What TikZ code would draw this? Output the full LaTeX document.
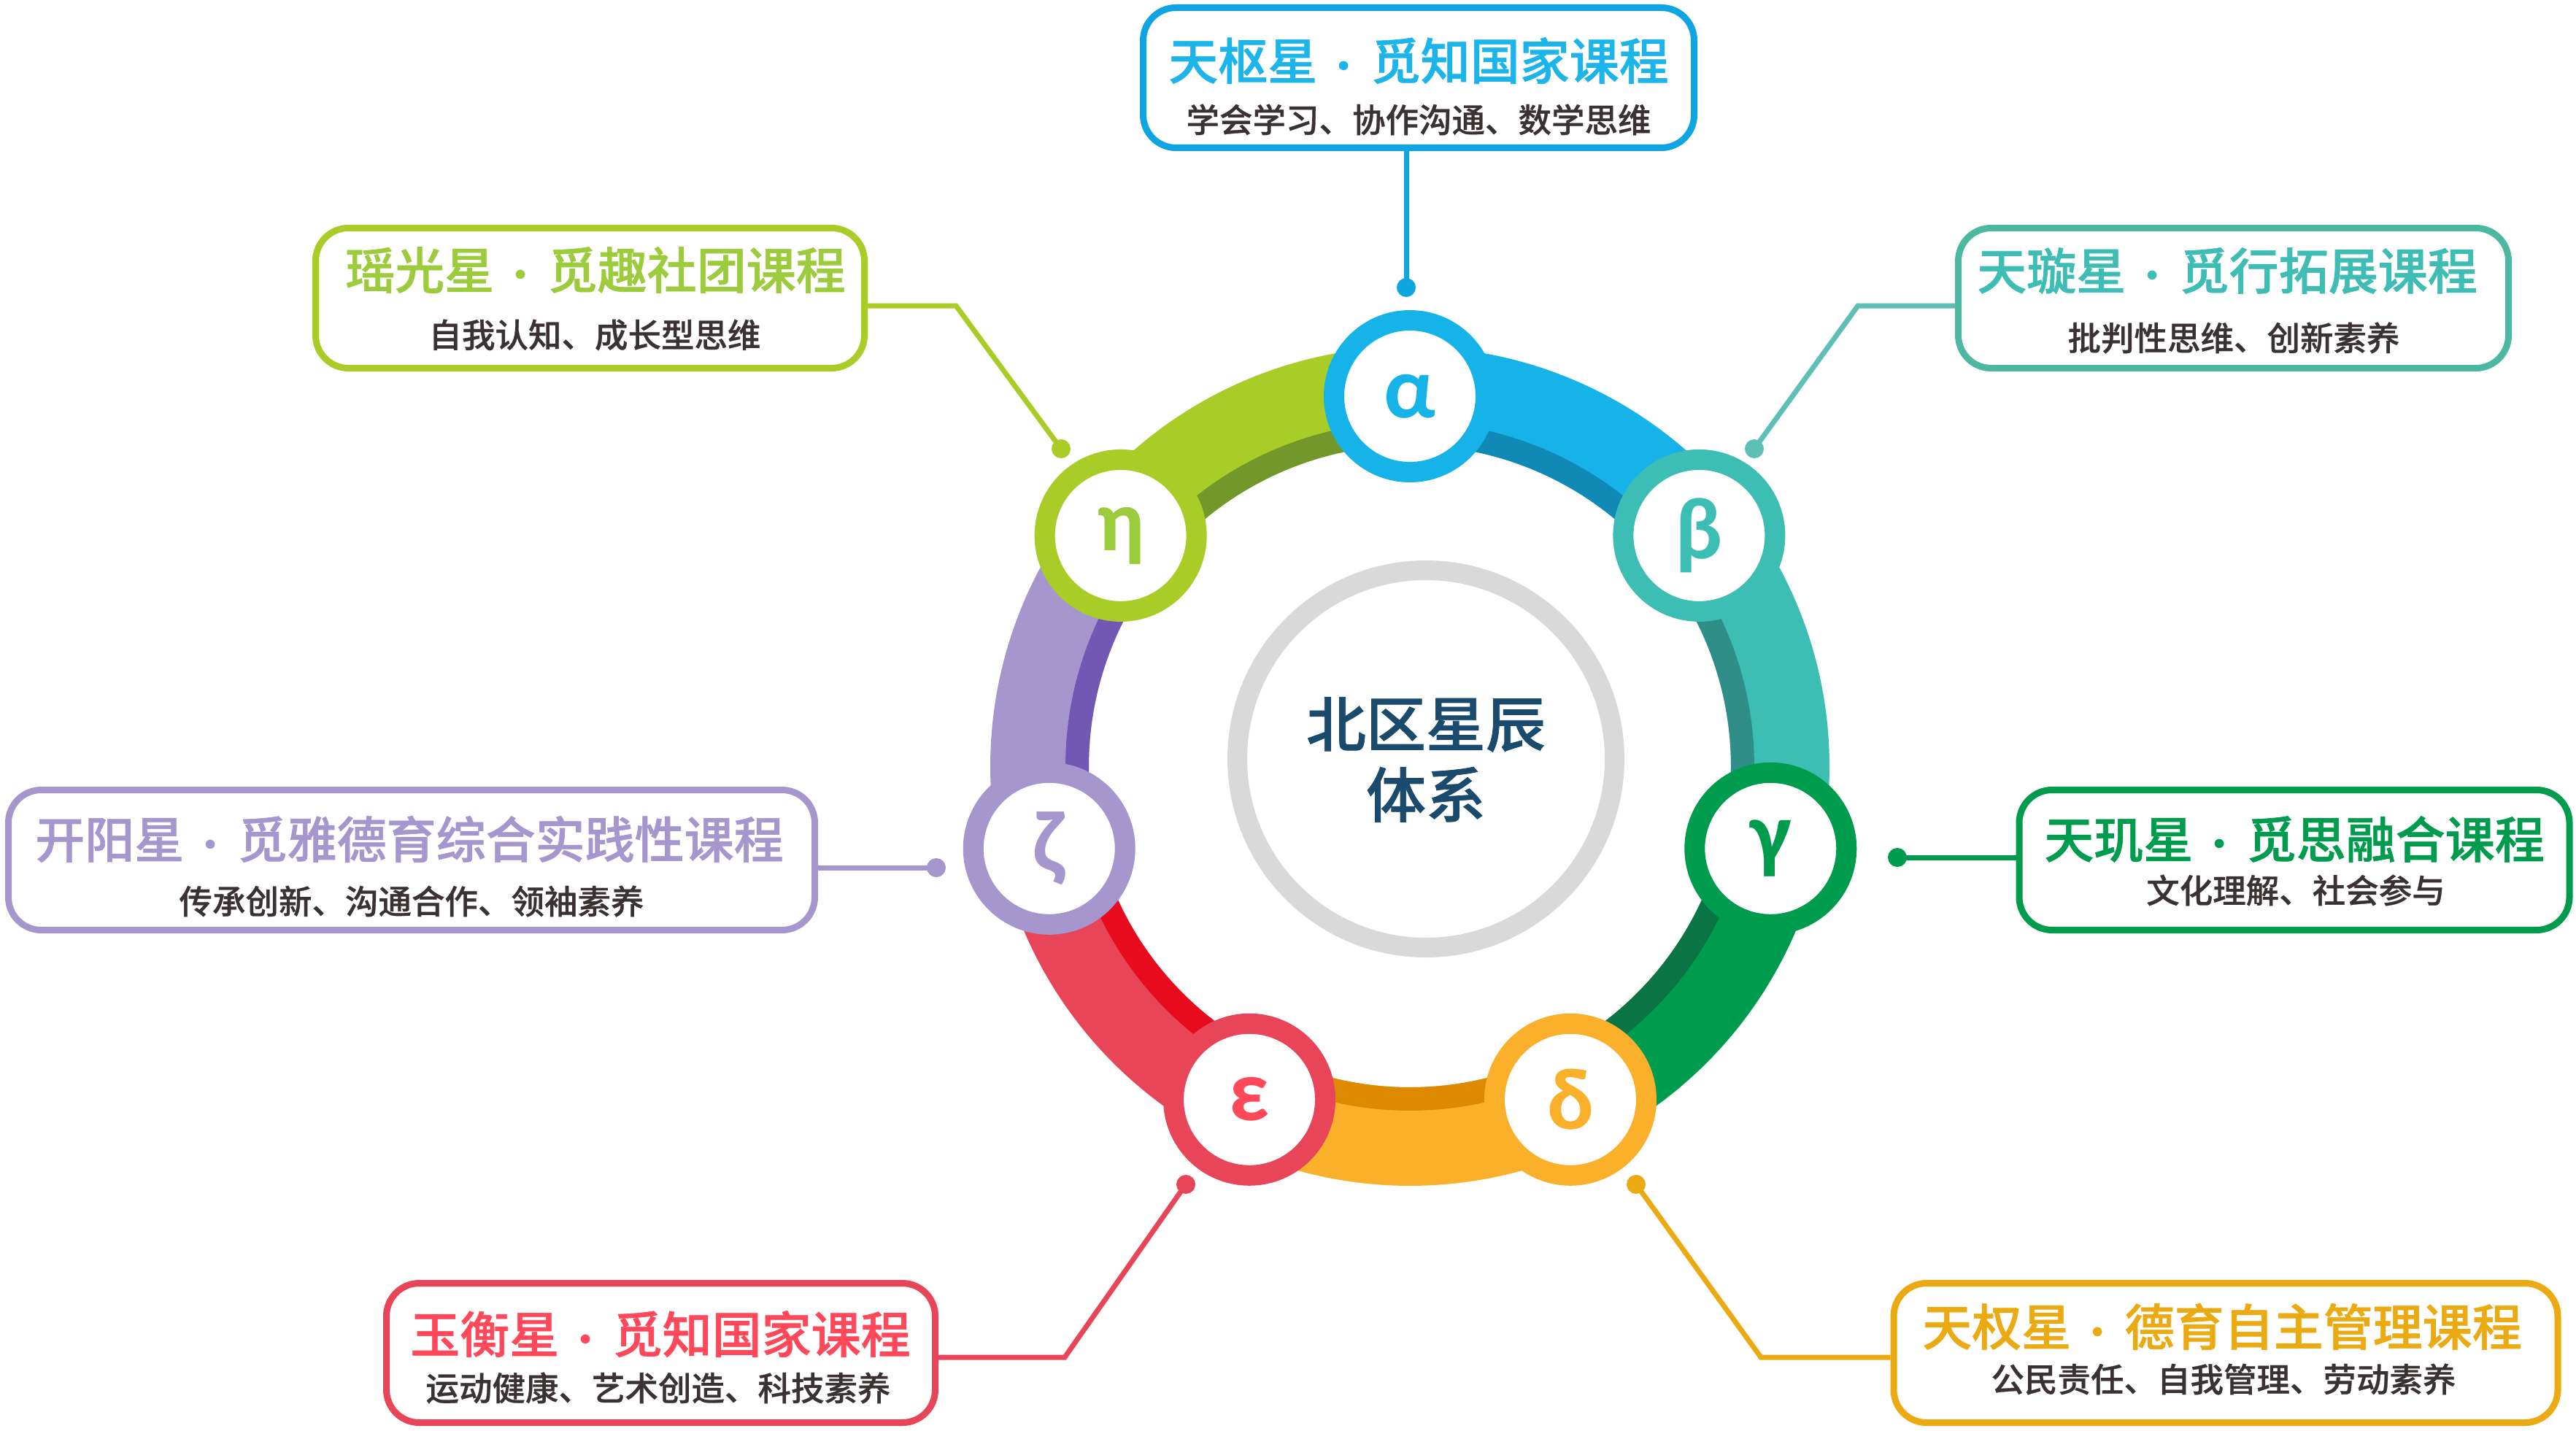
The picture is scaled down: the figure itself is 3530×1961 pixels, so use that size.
\documentclass[tikz,border=0pt]{standalone}
\usepackage{fontspec}
\newfontfamily\cjk{Noto Sans CJK SC Medium}[FakeBold=0.6]
\newfontfamily\cjkt{Noto Sans CJK SC Medium}[FakeBold=0.9]
\newfontfamily\grk{Carlito}
\usetikzlibrary{calc,backgrounds}
\definecolor{rBlue}{HTML}{16B3E9}\definecolor{dBlue}{HTML}{1189B6}
\definecolor{rTeal}{HTML}{3DBEB4}\definecolor{dTeal}{HTML}{2F8F88}
\definecolor{rGreen}{HTML}{009C4D}\definecolor{dGreen}{HTML}{0A7445}
\definecolor{rOrange}{HTML}{FBB02C}\definecolor{dOrange}{HTML}{DD8A00}
\definecolor{rRed}{HTML}{E84658}\definecolor{dRed}{HTML}{E70B1D}
\definecolor{rPurple}{HTML}{A597CE}\definecolor{dPurple}{HTML}{7158B5}
\definecolor{rLime}{HTML}{A9CC27}\definecolor{dLime}{HTML}{72982C}
\definecolor{bBlue}{HTML}{0FA4E2}\definecolor{tBlue}{HTML}{1CB5EB}
\definecolor{bTeal}{HTML}{4DB8A1}\definecolor{tTeal}{HTML}{3DBDB3}\definecolor{kTeal}{HTML}{5DBFB6}
\definecolor{bOrange}{HTML}{ECAA12}
\definecolor{tRed}{HTML}{FF4859}
\definecolor{tLime}{HTML}{9CCB3C}
\definecolor{subc}{HTML}{3A3232}
\definecolor{cgray}{HTML}{D9D9D9}
\definecolor{ctext}{HTML}{1A4B6C}
\newcommand{\sep}{\makebox[1.08em]{\grk\bfseries ·}}
\begin{document}
\begin{tikzpicture}[x=1pt,y=-1pt,
  greekc/.style={circle, fill=white, line width=28pt, minimum size=208pt, inner sep=0pt, font=\grk\bfseries\fontsize{120}{120}\selectfont},
  boxx/.style={draw, rounded corners=45pt, line width=9pt, fill=white, inner sep=0pt},
  ttl/.style={font=\cjkt\fontsize{68}{80}\selectfont, inner sep=0pt},
  subt/.style={font=\cjk\fontsize{45.5}{55}\selectfont, text=subc, inner sep=0pt},
  conn/.style={line width=7pt},
  spoke/.style={line width=4.5pt},
]
\useasboundingbox[fill=white] (0,0) rectangle (3530,1961);
\coordinate (C) at (1932,1050);

% ring segments
\foreach \i/\ca/\cb in {0/rBlue/dBlue,1/rTeal/dTeal,2/rGreen/dGreen,3/rOrange/dOrange,4/rRed/dRed,5/rPurple/dPurple,6/rLime/dLime}{
  \pgfmathsetmacro\sa{-90+\i*360/7}
  \pgfmathsetmacro\ea{\sa+360/7}
  \draw[line width=135pt, \ca] ($(C)+(\sa:507.5)$) arc[start angle=\sa, end angle=\ea, radius=507.5];
  \draw[line width=32pt, \cb] ($(C)+(\sa:456)$) arc[start angle=\sa, end angle=\ea, radius=456];
}

% centre
\node[circle, draw=cgray, fill=white, line width=27pt, minimum size=517pt, inner sep=0pt] (ctr) at (1954,1040) {};
\node[align=center, font=\cjkt\fontsize{82}{97}\selectfont, text=ctext, inner sep=0pt] (ctrt) at (1954,1041) {北区星辰\\体系};

% greek circles
\node[greekc, draw=rBlue, text=rBlue] (alpha) at ($(C)+(-90:507)$) {α};
\node[greekc, draw=rTeal, text=rTeal] (beta) at ($(C)+(-90+360/7:507)$) {β};
\node[greekc, draw=rGreen, text=rGreen] (gamma) at ($(C)+(-90+2*360/7:507)$) {γ};
\node[greekc, draw=rOrange, text=rOrange] (delta) at ($(C)+(-90+3*360/7:507)$) {δ};
\node[greekc, draw=rRed, text=tRed] (eps) at ($(C)+(-90+4*360/7:507)$) {ε};
\node[greekc, draw=rPurple, text=rPurple] (zeta) at ($(C)+(-90+5*360/7:507)$) {ζ};
\node[greekc, draw=rLime, text=tLime] (eta) at ($(C)+(-90+6*360/7:507)$) {η};

% spokes
\begin{pgfonlayer}{background}
\draw[line width=27pt, rBlue] (alpha.center) -- (alpha |- ctr.center);
\draw[spoke, rTeal] (beta.center) -- (ctr.center);
\draw[spoke, tLime] (gamma.center) -- (ctr.center);
\draw[spoke, rOrange] (delta.center) -- (ctr.center);
\draw[spoke, tRed] (eps.center) -- (ctr.center);
\draw[spoke, rPurple] (zeta.center) -- (ctr.center);
\draw[spoke, rLime] (eta.center) -- (ctr.center);
\end{pgfonlayer}

% boxes
\node[boxx, draw=bBlue, minimum width=755pt, minimum height=192pt] (b1) at (1944,106.5) {};
\node[ttl, text=tBlue] (b1t) at (1944,83) {天枢星\sep 觅知国家课程};
\node[subt] (b1s) at (1944,164) {学会学习、协作沟通、数学思维};

\node[boxx, draw=rLime, minimum width=752pt, minimum height=192pt] (b2) at (808.5,408.5) {};
\node[ttl, text=tLime] (b2t) at (816,370) {瑶光星\sep 觅趣社团课程};
\node[subt] (b2s) at (815,459) {自我认知、成长型思维};

\node[boxx, draw=bTeal, minimum width=754pt, minimum height=192pt] (b3) at (3060.5,408.5) {};
\node[ttl, text=tTeal] (b3t) at (3052,371) {天璇星\sep 觅行拓展课程};
\node[subt] (b3s) at (3061,463) {批判性思维、创新素养};

\node[boxx, draw=rPurple, minimum width=1105pt, minimum height=192pt] (b4) at (564,1178.5) {};
\node[ttl, text=rPurple] (b4t) at (561,1150) {开阳星\sep 觅雅德育综合实践性课程};
\node[subt] (b4s) at (564,1235) {传承创新、沟通合作、领袖素养};

\node[boxx, draw=rGreen, minimum width=754pt, minimum height=192pt] (b5) at (3144,1178.5) {};
\node[ttl, text=rGreen] (b5t) at (3144,1150) {天玑星\sep 觅思融合课程};
\node[subt] (b5s) at (3146,1220) {文化理解、社会参与};

\node[boxx, draw=rRed, minimum width=752pt, minimum height=191pt] (b6) at (905.5,1854) {};
\node[ttl, text=tRed] (b6t) at (905,1828) {玉衡星\sep 觅知国家课程};
\node[subt] (b6s) at (902,1902) {运动健康、艺术创造、科技素养};

\node[boxx, draw=bOrange, minimum width=910pt, minimum height=191pt] (b7) at (3050,1854) {};
\node[ttl, text=bOrange] (b7t) at (3045,1818) {天权星\sep 德育自主管理课程};
\node[subt] (b7s) at (3047,1890) {公民责任、自我管理、劳动素养};

% connectors
\coordinate (d1) at (1927,394);
\coordinate (d2) at (1454,615);  \coordinate (k2) at (1310,419);
\coordinate (d3) at (2404,615);  \coordinate (k3) at (2546,419);
\coordinate (d4) at (1283,1189);
\coordinate (d5) at (2600,1175);
\coordinate (d6) at (1625,1623); \coordinate (k6) at (1459,1860);
\coordinate (d7) at (2242,1623); \coordinate (k7) at (2413,1860);

\draw[conn, bBlue] (b1.south -| d1) -- (d1);
\fill[bBlue] (d1) circle[radius=13];
\draw[conn, rLime] (b2.east |- k2) -- (k2) -- (d2);
\fill[rLime] (d2) circle[radius=13];
\draw[conn, kTeal] (b3.west |- k3) -- (k3) -- (d3);
\fill[kTeal] (d3) circle[radius=13];
\draw[conn, rPurple] (b4.east |- d4) -- (d4);
\fill[rPurple] (d4) circle[radius=13];
\draw[conn, rGreen] (b5.west |- d5) -- (d5);
\fill[rGreen] (d5) circle[radius=13];
\draw[conn, rRed] (b6.east |- k6) -- (k6) -- (d6);
\fill[rRed] (d6) circle[radius=13];
\draw[conn, bOrange] (b7.west |- k7) -- (k7) -- (d7);
\fill[bOrange] (d7) circle[radius=13];
\end{tikzpicture}
\end{document}
